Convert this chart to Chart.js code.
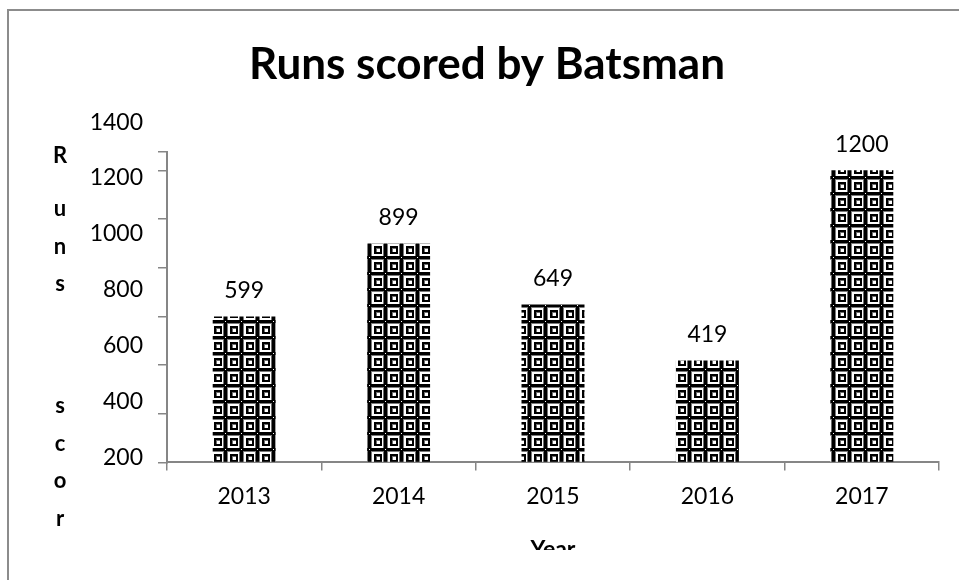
<!DOCTYPE html>
<html>
<head>
<meta charset="utf-8">
<script src="https://cdn.jsdelivr.net/npm/chart.js@4.4.1/dist/chart.umd.min.js"></script>
<style>
  html, body { margin: 0; padding: 0; background: #fff; overflow: hidden; }
  #frame {
    position: absolute; left: 7px; top: 9px;
    width: 1200px; height: 1200px;
    border: 2px solid #8c8c8c;
  }
  #chart { position: absolute; left: 0; top: 0; }
</style>
</head>
<body>
<div id="frame"></div>
<canvas id="chart" width="959" height="580"></canvas>
<script>
// ─── Données ──────────────────────────────────────────────────────────────────
const years = ["2013", "2014", "2015", "2016", "2017"];
const runs = [599, 899, 649, 419, 1200];
const yTickMarks = [0, 200, 400, 600, 800, 1000, 1200];
const yTickLabels = [200, 400, 600, 800, 1000, 1200, 1400];
const chartTitle = "Runs scored by Batsman";
const yTitle = "Runs scored";
const xTitle = "Year";

const AXIS = "#868686";
const FONT = "Lato, 'Open Sans', sans-serif";
const TEXT_SIZE = 23;

Chart.defaults.font.family = FONT;
Chart.defaults.color = "#000";

// ─── Motif des barres (grille noire / carrés blancs) ─────────────────────────
function makePattern() {
  const c = document.createElement("canvas");
  c.width = 16; c.height = 16;
  const g = c.getContext("2d");
  g.fillStyle = "#fff";
  g.fillRect(0, 0, 16, 16);
  g.fillStyle = "#000";
  g.fillRect(0, 0, 16, 3);
  g.fillRect(0, 0, 3, 16);
  g.fillStyle = "#7a7a7a";
  g.fillRect(3, 3, 13, 1);
  g.fillRect(3, 3, 1, 13);
  g.fillStyle = "#fff";
  g.fillRect(1, 1, 1, 1);
  g.fillStyle = "#000";
  g.fillRect(6, 6, 8, 2);
  g.fillRect(6, 12, 8, 2);
  g.fillRect(6, 6, 2, 8);
  g.fillRect(12, 6, 2, 8);
  g.fillStyle = "#6e6e6e";
  g.fillRect(8, 8, 4, 1);
  g.fillRect(8, 8, 1, 4);
  g.fillRect(15, 4, 1, 12);
  return g.createPattern(c, "repeat");
}

// ─── Textes dessinés à la main (titre, valeurs, titre vertical, titre X) ─────
const textPlugin = {
  id: "texts",
  afterDraw(chart) {
    const ctx = chart.ctx;
    const meta = chart.getDatasetMeta(0);

    ctx.save();
    ctx.fillStyle = "#000";
    ctx.textAlign = "center";
    ctx.textBaseline = "alphabetic";
    ctx.font = `bold 44px ${FONT}`;
    ctx.fillText(chartTitle, 487, 79);

    ctx.textBaseline = "middle";
    ctx.font = `${TEXT_SIZE}px ${FONT}`;
    meta.data.forEach((bar, i) => {
      ctx.fillText(String(runs[i]), bar.x, bar.y - 26);
    });
    ctx.restore();

    // le bas du graphique est rogné
    ctx.save();
    ctx.beginPath();
    ctx.rect(0, 0, chart.width, 550);
    ctx.clip();
    ctx.fillStyle = "#000";
    ctx.textAlign = "center";
    ctx.textBaseline = "alphabetic";
    ctx.font = `bold 22px ${FONT}`;
    let y = 163;
    [...yTitle].forEach((ch, i) => {
      if (ch === " ") { y += 122 - 37.5; return; }
      ctx.fillText(ch, 60, y);
      y += i === 0 ? 53 : 37.5;
    });
    ctx.font = `bold 23px ${FONT}`;
    const area = chart.chartArea;
    ctx.fillText(xTitle, (area.left + area.right) / 2, 557);
    ctx.restore();
  },
};

const ctx = document.getElementById("chart").getContext("2d");

const chart = new Chart(ctx, {
  type: "bar",
  data: {
    labels: years,
    datasets: [{
      label: "Runs",
      data: runs,
      backgroundColor: makePattern(),
      borderWidth: 0,
      categoryPercentage: 1,
      barPercentage: 0.408,
    }],
  },
  options: {
    responsive: false,
    animation: false,
    events: [],
    layout: { padding: { left: 0, right: 20, top: 152, bottom: 58 } },
    plugins: {
      legend: { display: false },
      tooltip: { enabled: false },
      title: { display: false },
    },
    scales: {
      x: {
        type: "category",
        offset: true,
        grid: {
          offset: true,
          drawOnChartArea: false,
          tickLength: 8,
          color: AXIS,
          lineWidth: 1.5,
        },
        border: { color: AXIS, width: 2 },
        ticks: { font: { size: TEXT_SIZE }, color: "#000", padding: 12 },
      },
      y: {
        type: "linear",
        position: "left",
        weight: 0,
        min: 0,
        max: 1275,
        afterBuildTicks: (s) => {
          s.ticks = yTickMarks.concat([s.max]).map((v) => ({ value: v }));
        },
        afterFit: (s) => { s.width = 9; },
        grid: {
          drawOnChartArea: false,
          tickLength: 9,
          color: AXIS,
          lineWidth: 1.5,
        },
        border: { color: AXIS, width: 2 },
        ticks: { display: false },
      },
      yLabels: {
        type: "linear",
        position: "left",
        weight: 1,
        min: 182,
        max: 1293,
        afterBuildTicks: (s) => {
          s.ticks = yTickLabels.map((v) => ({ value: v }));
        },
        afterFit: (s) => { s.width = 158; },
        grid: { display: false, drawTicks: false },
        border: { display: false },
        ticks: {
          autoSkip: false,
          padding: 15,
          font: { size: TEXT_SIZE },
          color: "#000",
          callback: (v) => String(v),
        },
      },
    },
  },
  plugins: [textPlugin],
});
</script>
</body>
</html>
